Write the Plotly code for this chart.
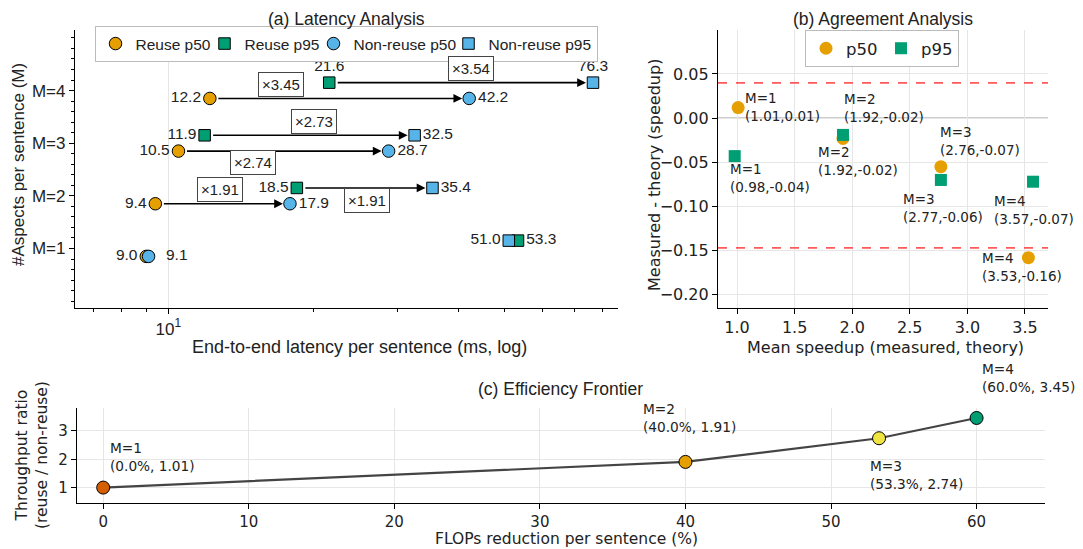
import math
import plotly.graph_objects as go

# ---------------- data ----------------
M = [1, 2, 3, 4]
m_labels = ["M=1", "M=2", "M=3", "M=4"]
reuse_p50 = [9.0, 9.4, 10.5, 12.2]
reuse_p95 = [53.3, 18.5, 11.9, 21.6]
nonreuse_p50 = [9.1, 17.9, 28.7, 42.2]
nonreuse_p95 = [51.0, 35.4, 32.5, 76.3]
ratio_p50 = [None, 1.91, 2.74, 3.45]
ratio_p95 = [None, 1.91, 2.73, 3.54]

# agreement analysis
agree_p50_x = [1.01, 1.92, 2.77, 3.53]
agree_p50_y = [0.012, -0.023, -0.055, -0.158]
agree_p95_x = [0.98, 1.92, 2.77, 3.57]
agree_p95_y = [-0.043, -0.019, -0.070, -0.072]
agree_p50_txt = ["(1.01,0.01)", "(1.92,-0.02)", "(2.76,-0.07)", "(3.53,-0.16)"]
agree_p95_txt = ["(0.98,-0.04)", "(1.92,-0.02)", "(2.77,-0.06)", "(3.57,-0.07)"]
loa_upper = 0.040
loa_lower = -0.147

# efficiency frontier
flops_red = [0.0, 40.0, 53.3, 60.0]
thr_ratio = [1.01, 1.91, 2.74, 3.45]

# ---------------- styles ----------------
C_ORANGE = "#E69F00"
C_GREEN = "#009E73"
C_BLUE = "#56B4E9"
C_VERM = "#D55E00"
C_YELLOW = "#F0E442"
FA = "Liberation Sans, Arial, sans-serif"
FD = "DejaVu Sans, sans-serif"

OFF = 8            # page body margin
W, H = 1083 - OFF, 549 - OFF


def px_x(p):
    return (p - OFF) / W


def px_y(p):
    return 1 - (p - OFF) / H


fig = go.Figure()

off = 0.15
y_p50 = [m - off for m in M]
y_p95 = [m + off for m in M]

mk_line = dict(color="black", width=1)
vfont = dict(family=FA, size=15.5, color="#222")

fig.add_trace(go.Scatter(
    x=reuse_p50, y=y_p50, mode="markers+text", name="Reuse p50",
    marker=dict(symbol="circle", size=12.5, color=C_ORANGE, line=mk_line),
    text=[f"{v:.1f}" for v in reuse_p50], textposition="middle left",
    textfont=vfont, xaxis="x", yaxis="y", legend="legend", cliponaxis=False,
    legendwidth=64))
fig.add_trace(go.Scatter(
    x=reuse_p95, y=y_p95, mode="markers+text", name="Reuse p95",
    marker=dict(symbol="square", size=11.5, color=C_GREEN, line=mk_line),
    text=[f"{v:.1f}" for v in reuse_p95],
    textposition=["middle right", "middle left", "middle left", "top center"],
    textfont=vfont, xaxis="x", yaxis="y", legend="legend", cliponaxis=False,
    legendwidth=64))
fig.add_trace(go.Scatter(
    x=nonreuse_p50, y=y_p50, mode="markers+text", name="Non-reuse p50",
    marker=dict(symbol="circle", size=12.5, color=C_BLUE, line=mk_line),
    text=["  " + f"{v:.1f}" if i == 0 else f"{v:.1f}" for i, v in enumerate(nonreuse_p50)],
    textposition="middle right",
    textfont=vfont, xaxis="x", yaxis="y", legend="legend", cliponaxis=False,
    legendwidth=90))
fig.add_trace(go.Scatter(
    x=nonreuse_p95, y=y_p95, mode="markers+text", name="Non-reuse p95",
    marker=dict(symbol="square", size=11.5, color=C_BLUE, line=mk_line),
    text=[f"{v:.1f}" for v in nonreuse_p95],
    textposition=["middle left", "middle right", "middle right", "top center"],
    textfont=vfont, xaxis="x", yaxis="y", legend="legend", cliponaxis=False))

annotations = []
# arrows and ratio boxes
p50_box_shift = {2: (-3, 14), 3: (-31, -11), 4: (-59, 14)}
p95_box_shift = {2: (2, -13), 3: (4, 14), 4: (10, 14)}
for i, m in enumerate(M):
    if ratio_p50[i] is None:
        continue
    for src, dst, yy, ratio, shifts in [
        (reuse_p50, nonreuse_p50, y_p50, ratio_p50, p50_box_shift),
        (reuse_p95, nonreuse_p95, y_p95, ratio_p95, p95_box_shift),
    ]:
        a, b = math.log10(src[i]), math.log10(dst[i])
        annotations.append(dict(
            x=b, y=yy[i], ax=a, ay=yy[i], xref="x", yref="y", axref="x", ayref="y",
            showarrow=True, arrowhead=2, arrowsize=1.1, arrowwidth=1.6,
            arrowcolor="black", standoff=7, startstandoff=7, text=""))
        sx, sy = shifts[m]
        annotations.append(dict(
            x=(a + b) / 2, y=yy[i], xref="x", yref="y", showarrow=False,
            text=f"×{ratio[i]:.2f}", xshift=sx, yshift=sy,
            font=dict(family=FA, size=15, color="#222"),
            bgcolor="white", bordercolor="#444", borderwidth=1, borderpad=3))

# ---------------- panel (b) ----------------
fig.add_trace(go.Scatter(
    x=agree_p50_x, y=agree_p50_y, mode="markers", name="p50",
    marker=dict(symbol="circle", size=13, color=C_ORANGE),
    xaxis="x2", yaxis="y2", legend="legend2", legendwidth=30))
fig.add_trace(go.Scatter(
    x=agree_p95_x, y=agree_p95_y, mode="markers", name="p95",
    marker=dict(symbol="square", size=12, color=C_GREEN),
    xaxis="x2", yaxis="y2", legend="legend2"))

p50_lbl_shift = [(5, 1), (-1, 30), (-3, 26), (-48, -9)]
p95_lbl_shift = [(-7, -22), (-27, -26), (-40, -28), (-41, -28)]
for xs, ys, txts, shifts in [
    (agree_p50_x, agree_p50_y, agree_p50_txt, p50_lbl_shift),
    (agree_p95_x, agree_p95_y, agree_p95_txt, p95_lbl_shift),
]:
    for i in range(4):
        annotations.append(dict(
            x=xs[i], y=ys[i], xref="x2", yref="y2", showarrow=False,
            text=f"{m_labels[i]}<br>{txts[i]}", align="left",
            xanchor="left", yanchor="middle",
            xshift=shifts[i][0], yshift=shifts[i][1],
            font=dict(family=FD, size=13.5, color="#222")))

shapes = [
    dict(type="line", xref="x2 domain", yref="y2", x0=0, x1=1, y0=0, y1=0,
         line=dict(color="#999", width=1.3), layer="below"),
    dict(type="line", xref="x2 domain", yref="y2", x0=0, x1=1, y0=loa_upper, y1=loa_upper,
         line=dict(color="rgba(255,60,60,0.85)", width=1.8, dash="dash")),
    dict(type="line", xref="x2 domain", yref="y2", x0=0, x1=1, y0=loa_lower, y1=loa_lower,
         line=dict(color="rgba(255,60,60,0.85)", width=1.8, dash="dash")),
]

# ---------------- panel (c) ----------------
fig.add_trace(go.Scatter(
    x=flops_red, y=thr_ratio, mode="lines", line=dict(color="#444", width=2.2),
    showlegend=False, xaxis="x3", yaxis="y3"))
fig.add_trace(go.Scatter(
    x=flops_red, y=thr_ratio, mode="markers",
    marker=dict(size=13, color=[C_VERM, C_ORANGE, C_YELLOW, C_GREEN], line=mk_line),
    showlegend=False, xaxis="x3", yaxis="y3", cliponaxis=False))
c_shift = [(5, 31), (-44, 44), (-11, -37), (3, 40)]
for i in range(4):
    annotations.append(dict(
        x=flops_red[i], y=thr_ratio[i], xref="x3", yref="y3", showarrow=False,
        text=f"{m_labels[i]}<br>({flops_red[i]:.1f}%, {thr_ratio[i]:.2f})",
        align="left", xanchor="left", yanchor="middle",
        xshift=c_shift[i][0], yshift=c_shift[i][1],
        font=dict(family=FD, size=13.7, color="#222")))


# ---------------- titles ----------------
def txt(x, y, s, size=17, family=FA, angle=0):
    return dict(x=px_x(x), y=px_y(y), xref="paper", yref="paper", text=s,
                showarrow=False, textangle=angle, xanchor="center", yanchor="middle",
                font=dict(family=family, size=size, color="#222"))


annotations += [
    txt(346, 18.5, "(a) Latency Analysis", size=17.5),
    txt(883, 18.5, "(b) Agreement Analysis", size=17.5),
    txt(561, 389, "(c) Efficiency Frontier", size=17.5),
    txt(359, 347, "End-to-end latency per sentence (ms, log)", size=18),
    txt(18, 165, "#Aspects per sentence (M)", angle=-90),
    txt(885, 347, "Mean speedup (measured, theory)", family=FD, size=16),
    txt(654, 175, "Measured - theory (speedup)", family=FD, size=16, angle=-90),
    txt(566, 538.5, "FLOPs reduction per sentence (%)", family=FD, size=15.5),
    txt(32, 455, "Throughput ratio<br>(reuse / non-reuse)", family=FD, size=15.5, angle=-90),
]

axis_common = dict(showline=True, linecolor="black", linewidth=1.2, ticks="outside",
                   tickcolor="black", ticklen=5, mirror=False, zeroline=False)

fig.update_layout(
    width=W, height=H, margin=dict(l=0, r=0, t=0, b=0),
    paper_bgcolor="white", plot_bgcolor="white",
    annotations=annotations, shapes=shapes,
    xaxis=dict(domain=[px_x(75), px_x(618)], anchor="y", type="log",
               range=[math.log10(6.4), math.log10(86)],
               tickvals=[10], ticktext=["10<sup>1</sup>"],
               showgrid=True, gridcolor="#e6e6e6",
               tickfont=dict(family=FA, size=17, color="#222"),
               minor=dict(tickvals=[7, 8, 9, 20, 30, 40, 50, 60, 70, 80], ticks="outside",
                          ticklen=3, tickcolor="black", showgrid=False),
               **axis_common),
    yaxis=dict(domain=[px_y(308), px_y(30)], anchor="x", range=[-0.13, 5.15],
               tickvals=M, ticktext=m_labels, showgrid=False,
               tickfont=dict(family=FA, size=17, color="#222"),
               minor=dict(dtick=0.2, tick0=0, ticks="outside", ticklen=3,
                          tickcolor="black", showgrid=False),
               **axis_common),
    xaxis2=dict(domain=[px_x(718), px_x(1048)], anchor="y2", range=[0.835, 3.70],
                dtick=0.5, tick0=0, tickformat=".1f", showgrid=True, gridcolor="#e6e6e6",
                tickfont=dict(family=FD, size=16, color="#222"), **axis_common),
    yaxis2=dict(domain=[px_y(308), px_y(30)], anchor="x2", range=[-0.215, 0.0998],
                dtick=0.05, tick0=0, tickformat=".2f", showgrid=True, gridcolor="#e6e6e6",
                tickfont=dict(family=FD, size=16, color="#222"), **axis_common),
    xaxis3=dict(domain=[px_x(77), px_x(1045)], anchor="y3", range=[-1.8, 64.7],
                dtick=10, showgrid=True, gridcolor="#e6e6e6",
                tickfont=dict(family=FD, size=15, color="#222"), **axis_common),
    yaxis3=dict(domain=[px_y(503), px_y(408)], anchor="x3", range=[0.47, 3.8],
                dtick=1, showgrid=True, gridcolor="#e6e6e6",
                tickfont=dict(family=FD, size=15, color="#222"), **axis_common),
    legend=dict(orientation="h", x=px_x(346), xanchor="center", y=px_y(26), yanchor="top",
                bordercolor="#bbb", borderwidth=1, bgcolor="white",
                font=dict(family=FA, size=15.5, color="#222"), itemwidth=30,
                tracegroupgap=0),
    legend2=dict(orientation="h", x=px_x(882), xanchor="center", y=px_y(30), yanchor="top",
                 bordercolor="#bbb", borderwidth=1, bgcolor="white",
                 font=dict(family=FD, size=16.5, color="#222"), itemwidth=30),
)

fig.write_html("out.html")
